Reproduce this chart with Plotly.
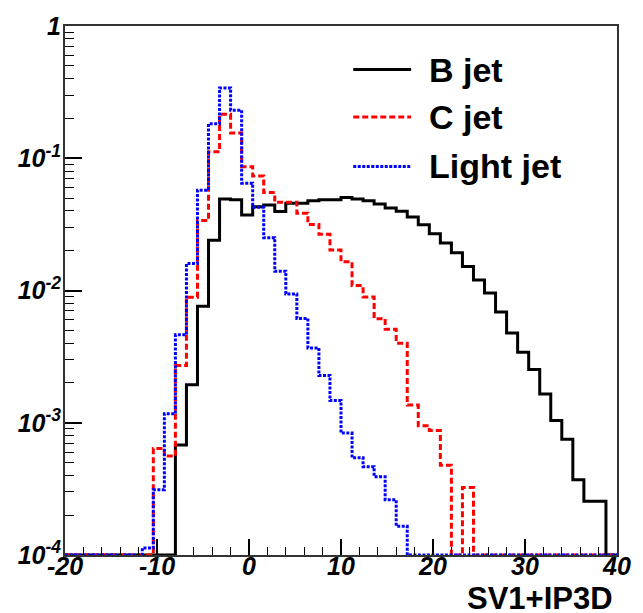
import numpy as np
import plotly.graph_objects as go

# Histogram binning (ROOT TH1: 50 bins from -20 to 40)
X_MIN, X_MAX, N_BINS = -20.0, 40.0, 50

b_jet = [0, 0, 0, 0, 0, 0, 0, 0, 0, 0,
         6.8e-4, 1.94e-3, 7.6e-3, 0.024, 0.0492, 0.0486, 0.0373, 0.043, 0.0443, 0.0395,
         0.0456, 0.0456, 0.0477, 0.0486, 0.0486, 0.0506, 0.0492, 0.0477, 0.0451, 0.0421,
         0.0398, 0.0359, 0.0314, 0.0269, 0.0229, 0.0193, 0.0152, 0.0120, 0.00958, 0.00687,
         0.00477, 0.00341, 0.00253, 0.00165, 0.00104, 7.5e-4, 3.7e-4, 2.55e-4, 2.55e-4, 0]

c_jet = [0, 0, 0, 0, 0, 0, 0, 0,
         6.4e-4, 5.6e-4, 2.71e-3, 8.9e-3, 0.0338, 0.112, 0.215, 0.155, 0.0863, 0.0734,
         0.0551, 0.0465, 0.0465, 0.0384, 0.0316, 0.0266, 0.0202, 0.0165, 0.0109, 0.00894,
         0.00612, 0.00509, 0.00400, 0.00136, 9.5e-4, 8.75e-4, 4.77e-4, 0, 3.24e-4,
         0, 0, 0, 0, 0, 0, 0, 0, 0, 0, 0, 0, 0]

light_jet = [0, 0, 0, 0, 0, 0, 0,
             1.13e-4, 3.11e-4, 1.17e-3, 4.62e-3, 0.016, 0.0574, 0.1825, 0.340, 0.231,
             0.0648, 0.0426, 0.0251, 0.0140, 0.00941, 0.00615, 0.00368, 0.00228, 0.00147,
             8.35e-4, 5.43e-4, 4.65e-4, 3.90e-4, 2.62e-4, 1.65e-4,
             0, 0, 0, 0, 0, 0, 0, 0, 0, 0, 0, 0, 0, 0, 0, 0, 0, 0, 0]

series_names = ["B jet", "C jet", "Light jet"]
x_ticks = [-20, -10, 0, 10, 20, 30, 40]
x_tick_text = ["-20", "-10", "0", "10", "20", "30", "40"]
y_ticks = [1e-4, 1e-3, 1e-2, 1e-1, 1]
y_tick_text = ["10<sup>-4</sup>", "10<sup>-3</sup>", "10<sup>-2</sup>", "10<sup>-1</sup>", "1"]
x_title = "SV1+IP3D"

Y_FLOOR = 1e-4
edges = np.linspace(X_MIN, X_MAX, N_BINS + 1)


def step_xy(vals):
    v = np.maximum(np.asarray(vals, dtype=float), Y_FLOOR)
    return edges, np.append(v, v[-1])


styles = [
    dict(color="black", width=3, dash="solid"),
    dict(color="#ff0000", width=3, dash="6px,3px"),
    dict(color="#0000ff", width=3, dash="3px,1.5px"),
]

fig = go.Figure()
for name, vals, st in zip(series_names, [b_jet, c_jet, light_jet], styles):
    xs, ys = step_xy(vals)
    fig.add_trace(go.Scatter(x=xs, y=ys, mode="lines", line_shape="hv",
                             line=st, name=name, showlegend=False))

W, H = 643, 613
L, R, T, B = 65, 15, 20, 58
pw, ph = W - L - R, H - T - B


def px(xp):
    return (xp - L) / pw


def py(yp):
    return (H - B - yp) / ph


tick_font = dict(family="Liberation Sans, Arial", size=25, color="black",
                 weight="bold", style="italic")

fig.update_layout(
    width=W, height=H,
    margin=dict(l=L, r=R, t=T, b=B),
    paper_bgcolor="white", plot_bgcolor="white",
    xaxis=dict(range=[X_MIN, X_MAX], tickvals=x_ticks, ticktext=x_tick_text,
               ticks="inside", ticklen=16, tickwidth=1.5, tickcolor="black",
               minor=dict(dtick=2, ticks="inside", ticklen=8, tickwidth=1.2,
                          tickcolor="black", showgrid=False),
               showgrid=False, zeroline=False, showline=True, linewidth=2,
               linecolor="#333", mirror=True, tickfont=tick_font,
               ticklabelstandoff=-12),
    yaxis=dict(type="log", range=[-4, 0], tickvals=y_ticks, ticktext=y_tick_text,
               ticks="inside", ticklen=17, tickwidth=1.5, tickcolor="black",
               minor=dict(dtick="D1", ticks="inside", ticklen=9, tickwidth=1.2,
                          tickcolor="black", showgrid=False),
               showgrid=False, zeroline=False, showline=True, linewidth=2,
               linecolor="#333", mirror=True, tickfont=tick_font,
               ticklabelstandoff=-3),
)

# Legend (ROOT TLegend style)
leg_rows_y = [64, 112, 162]
for name, st, yp in zip(series_names, styles, leg_rows_y):
    fig.add_shape(type="line", xref="paper", yref="paper",
                  x0=px(359), x1=px(418), y0=py(yp), y1=py(yp),
                  line=dict(color=st["color"], width=3, dash=st["dash"]))
    fig.add_annotation(xref="paper", yref="paper", x=px(434), y=py(yp),
                       text=name, showarrow=False, xanchor="left", yanchor="middle",
                       font=dict(family="Liberation Sans, Arial", size=34,
                                 color="black", weight="bold"))

fig.add_annotation(xref="paper", yref="paper", x=px(626), y=py(599),
                   text=x_title, showarrow=False, xanchor="right", yanchor="middle",
                   font=dict(family="Liberation Sans, Arial", size=31,
                             color="black", weight="bold"))

fig.write_html("out.html")
